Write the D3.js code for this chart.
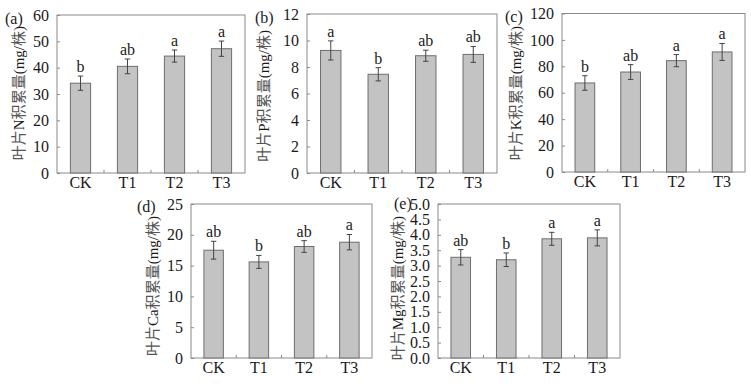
<!DOCTYPE html>
<html>
<head>
<meta charset="utf-8">
<script src="https://cdn.jsdelivr.net/npm/d3@7"></script>
<style>
  body { margin: 0; background: #fff; }
  text { font-family: "Liberation Serif", "Noto Sans CJK SC", serif; fill: #1a1a1a; }
</style>
</head>
<body>
<div id="chart"></div>
<script>
// treatments
var groups = ["CK", "T1", "T2", "T3"];

// leaf N accumulation
var nVals = [34.1, 40.5, 44.4, 47.2];
var nErr  = [2.7, 2.8, 2.3, 2.9];
var nSig  = ["b", "ab", "a", "a"];
var nTicks = [0, 10, 20, 30, 40, 50, 60];

// leaf P accumulation
var pVals = [9.25, 7.45, 8.85, 8.95];
var pErr  = [0.72, 0.5, 0.42, 0.6];
var pSig  = ["a", "b", "ab", "ab"];
var pTicks = [0, 2, 4, 6, 8, 10, 12];

// leaf K accumulation
var kVals = [67.4, 75.7, 84.3, 90.9];
var kErr  = [5.5, 5.6, 4.6, 6.4];
var kSig  = ["b", "ab", "a", "a"];
var kTicks = [0, 20, 40, 60, 80, 100, 120];

// leaf Ca accumulation
var caVals = [17.5, 15.6, 18.1, 18.8];
var caErr  = [1.45, 1.05, 0.95, 1.25];
var caSig  = ["ab", "b", "ab", "a"];
var caTicks = [0, 5, 10, 15, 20, 25];

// leaf Mg accumulation
var mgVals = [3.27, 3.19, 3.87, 3.90];
var mgErr  = [0.25, 0.22, 0.21, 0.26];
var mgSig  = ["ab", "b", "a", "a"];
var mgTicks = [0, 0.5, 1, 1.5, 2, 2.5, 3, 3.5, 4, 4.5, 5];

var svg = d3.select("#chart")
  .append("svg")
    .attr("width", 751)
    .attr("height", 386);

// panel layout (titleTop = where the rotated y title ends at the top)
var panels = [
  {tag: "(a)", el: "N",  vals: nVals,  err: nErr,  sig: nSig,  ticks: nTicks,  fmt: d3.format("d"),
   left: 57,  right: 245, top: 15,  bottom: 173, tagX: 5,   tagY: 24,  titleX: 19,  titleTop: 26},
  {tag: "(b)", el: "P",  vals: pVals,  err: pErr,  sig: pSig,  ticks: pTicks,  fmt: d3.format("d"),
   left: 307, right: 497, top: 14,  bottom: 173, tagX: 255, tagY: 23,  titleX: 264, titleTop: 30},
  {tag: "(c)", el: "K",  vals: kVals,  err: kErr,  sig: kSig,  ticks: kTicks,  fmt: d3.format("d"),
   left: 562, right: 745, top: 13.5, bottom: 172, tagX: 505, tagY: 22, titleX: 516, titleTop: 26},
  {tag: "(d)", el: "Ca", vals: caVals, err: caErr, sig: caSig, ticks: caTicks, fmt: d3.format("d"),
   left: 191, right: 372, top: 204, bottom: 358, tagX: 137, tagY: 212, titleX: 153, titleTop: 216},
  {tag: "(e)", el: "Mg", vals: mgVals, err: mgErr, sig: mgSig, ticks: mgTicks, fmt: d3.format(".1f"),
   left: 438, right: 620, top: 204, bottom: 358, tagX: 394, tagY: 209, titleX: 398, titleTop: 216}
];

panels.forEach(function(p) {
  var g = svg.append("g");

  var x = d3.scaleBand()
    .domain(groups)
    .range([p.left, p.right])
    .paddingInner(0.57)
    .paddingOuter(0.285);

  var y = d3.scaleLinear()
    .domain([p.ticks[0], p.ticks[p.ticks.length - 1]])
    .range([p.bottom, p.top]);

  // frame
  g.append("rect")
    .attr("x", p.left)
    .attr("y", p.top)
    .attr("width", p.right - p.left)
    .attr("height", p.bottom - p.top)
    .attr("fill", "none")
    .attr("stroke", "#8a8a8a")
    .attr("stroke-width", 1);

  // y axis, ticks point inward
  var yAxis = g.append("g")
    .attr("transform", "translate(" + p.left + ",0)")
    .call(d3.axisLeft(y).tickValues(p.ticks).tickFormat(p.fmt).tickSizeInner(-3).tickSizeOuter(0).tickPadding(8));
  yAxis.attr("font-family", null);
  yAxis.select(".domain").remove();
  yAxis.selectAll("line").attr("stroke", "#8a8a8a");
  yAxis.selectAll("text").style("font-size", "16px").attr("fill", "#1a1a1a");

  // x axis labels
  var xAxis = g.append("g")
    .attr("transform", "translate(0," + p.bottom + ")")
    .call(d3.axisBottom(x).tickSize(0).tickPadding(4));
  xAxis.attr("font-family", null);
  xAxis.select(".domain").remove();
  xAxis.selectAll("text").style("font-size", "16px").attr("fill", "#1a1a1a");

  // small inward ticks between categories
  g.selectAll(".sep")
    .data(groups.slice(1))
    .enter()
    .append("line")
      .attr("x1", function(d) { return x(d) - x.step() * x.paddingInner() / 2; })
      .attr("x2", function(d) { return x(d) - x.step() * x.paddingInner() / 2; })
      .attr("y1", p.bottom)
      .attr("y2", p.bottom - 3)
      .attr("stroke", "#8a8a8a");

  // bars
  g.selectAll(".bar")
    .data(groups)
    .enter()
    .append("rect")
      .attr("x", function(d) { return x(d); })
      .attr("y", function(d, i) { return y(p.vals[i]); })
      .attr("width", x.bandwidth())
      .attr("height", function(d, i) { return p.bottom - y(p.vals[i]); })
      .attr("fill", "#c3c3c3")
      .attr("stroke", "#6e6e6e")
      .attr("stroke-width", 1);

  // error bars
  var eb = g.selectAll(".err")
    .data(groups)
    .enter()
    .append("g")
      .attr("stroke", "#444")
      .attr("stroke-width", 1);
  eb.append("line")
    .attr("x1", function(d) { return x(d) + x.bandwidth() / 2; })
    .attr("x2", function(d) { return x(d) + x.bandwidth() / 2; })
    .attr("y1", function(d, i) { return y(p.vals[i] - p.err[i]); })
    .attr("y2", function(d, i) { return y(p.vals[i] + p.err[i]); });
  [1, -1].forEach(function(s) {
    eb.append("line")
      .attr("x1", function(d) { return x(d) + x.bandwidth() / 2 - 2.7; })
      .attr("x2", function(d) { return x(d) + x.bandwidth() / 2 + 2.7; })
      .attr("y1", function(d, i) { return y(p.vals[i] + s * p.err[i]); })
      .attr("y2", function(d, i) { return y(p.vals[i] + s * p.err[i]); });
  });

  // significance letters
  g.selectAll(".sig")
    .data(groups)
    .enter()
    .append("text")
      .attr("x", function(d) { return x(d) + x.bandwidth() / 2; })
      .attr("y", function(d, i) { return y(p.vals[i] + p.err[i]) - 4; })
      .attr("text-anchor", "middle")
      .style("font-size", "16px")
      .text(function(d, i) { return p.sig[i]; });

  // panel tag
  g.append("text")
    .attr("x", p.tagX)
    .attr("y", p.tagY)
    .style("font-size", "16px")
    .text(p.tag);

  // y title
  var t = g.append("text")
    .attr("transform", "translate(" + p.titleX + "," + p.titleTop + ") rotate(-90)")
    .attr("text-anchor", "end")
    .attr("dy", "0.35em")
    .style("font-size", "15px");
  t.append("tspan").attr("fill", "#555").text("叶片");
  t.append("tspan").text(p.el);
  t.append("tspan").attr("fill", "#555").text("积累量");
  t.append("tspan").text("(mg/");
  t.append("tspan").attr("fill", "#555").text("株");
  t.append("tspan").text(")");
});
</script>
</body>
</html>
